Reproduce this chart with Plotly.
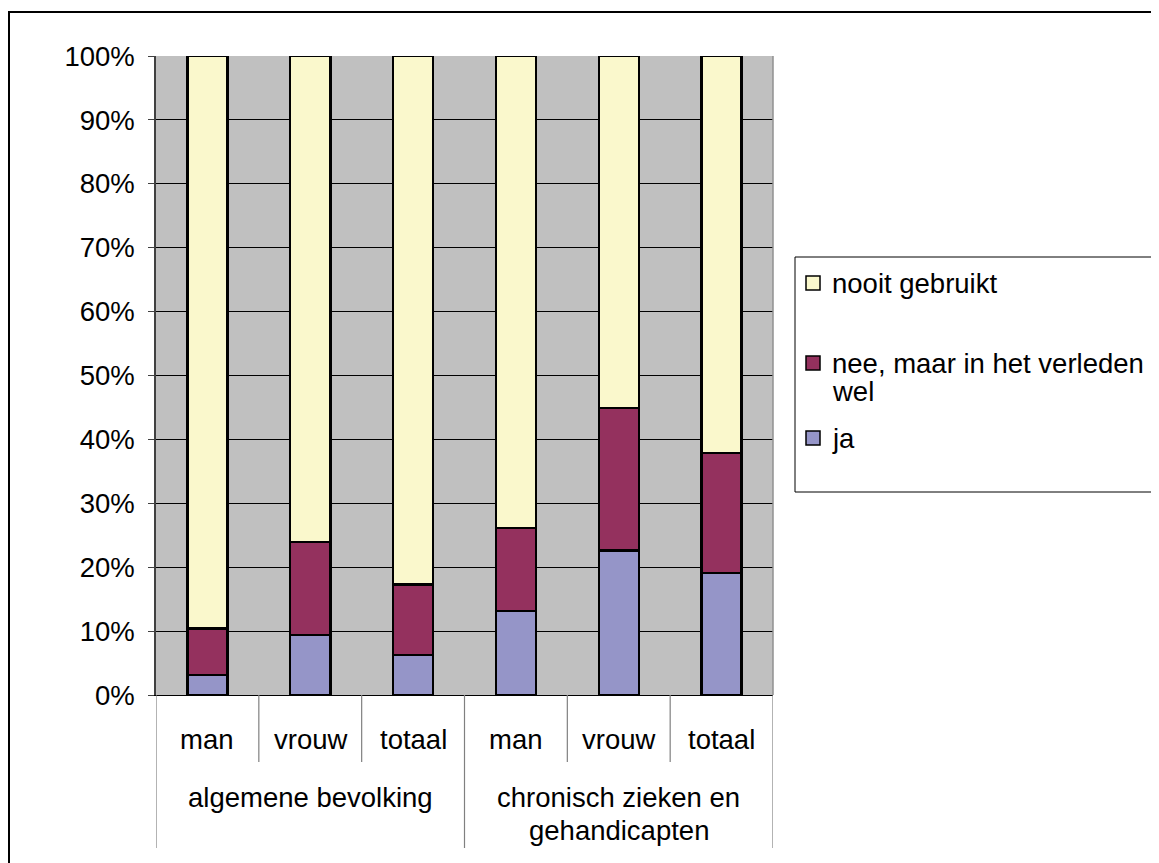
import plotly.graph_objects as go

categories = ["man", "vrouw", "totaal", "man", "vrouw", "totaal"]
groups = [["algemene bevolking"], ["chronisch zieken en", "gehandicapten"]]
group_size = 3
ja = [3.1, 9.4, 6.3, 13.1, 22.6, 19.1]
nee = [7.3, 14.5, 11.0, 13.0, 22.3, 18.8]
nooit = [89.6, 76.1, 82.7, 73.9, 55.1, 62.1]
y_ticks = [0, 10, 20, 30, 40, 50, 60, 70, 80, 90, 100]
series_names = ["ja", "nee, maar in het verleden", "nooit gebruikt"]
legend_lines = [["ja"], ["nee, maar in het verleden", "wel"], ["nooit gebruikt"]]
colors = ["#9595C8", "#94315E", "#FAF8CC"]

OFF = 8  # page body margin
W, H = 1159 - OFF, 863 - OFF
L, R, T, B = 156, 773, 56, 695  # plot area in page pixels
FONT = "Liberation Sans, Arial, sans-serif"
FS = 27.5

def px(xp):
    return (xp - L) / (R - L)

def py(yp):
    return (B - yp) / (B - T)

x = list(range(len(categories)))
fig = go.Figure()
for name, vals, col in zip(series_names, [ja, nee, nooit], colors):
    fig.add_trace(go.Bar(x=x, y=vals, name=name,
                         marker=dict(color=col, line=dict(color="black", width=2.4)),
                         showlegend=False))

shapes = []
annotations = []
# outer border
shapes.append(dict(type="rect", xref="paper", yref="paper", x0=px(9), x1=px(1190), y0=py(12), y1=py(920),
                   line=dict(color="black", width=2), fillcolor="rgba(0,0,0,0)", layer="below"))
# plot-area right edge
shapes.append(dict(type="line", xref="paper", yref="paper", x0=1, x1=1, y0=0, y1=1,
                   line=dict(color="#909090", width=1.5)))
# category labels + dividers
for i, c in enumerate(categories):
    annotations.append(dict(x=i, y=py(740), xref="x", yref="paper", text=c, showarrow=False,
                            font=dict(size=FS, color="black", family=FONT), xanchor="center", yanchor="middle"))
for i in range(len(categories) + 1):
    long_line = (i % group_size == 0)
    shapes.append(dict(type="line", xref="x", yref="paper", x0=i - 0.5, x1=i - 0.5, y0=0,
                       y1=py(848) if long_line else py(762), line=dict(color="#808080", width=1.2)))
for g, lines in enumerate(groups):
    cx = g * group_size + (group_size - 1) / 2
    for k, line in enumerate(lines):
        annotations.append(dict(x=cx, y=py(797 + 33 * k), xref="x", yref="paper", text=line, showarrow=False,
                                font=dict(size=FS, color="black", family=FONT), xanchor="center",
                                yanchor="middle"))
# legend box
shapes.append(dict(type="rect", xref="paper", yref="paper", x0=px(795), x1=px(1190), y0=py(257), y1=py(492),
                   line=dict(color="black", width=1), fillcolor="white"))
leg_y = [438, 363, 283]
for lines, col, ly in zip(legend_lines, colors, leg_y):
    shapes.append(dict(type="rect", xref="paper", yref="paper", x0=px(806), x1=px(820), y0=py(ly - 7),
                       y1=py(ly + 7), line=dict(color="black", width=1.5), fillcolor=col))
    for k, line in enumerate(lines):
        annotations.append(dict(x=px(830), y=py(ly + 28 * k), xref="paper", yref="paper", text=line,
                                showarrow=False, font=dict(size=FS, color="black", family=FONT),
                                xanchor="left", yanchor="middle", align="left"))

fig.update_layout(
    width=W, height=H,
    margin=dict(l=L - OFF, r=W - (R - OFF), t=T - OFF, b=H - (B - OFF), pad=0),
    barmode="stack", bargap=0.61,
    plot_bgcolor="#C0C0C0", paper_bgcolor="white",
    font=dict(family=FONT, size=FS, color="black"),
    shapes=shapes, annotations=annotations,
    xaxis=dict(range=[-0.5, len(categories) - 0.5], showticklabels=False, showgrid=False, zeroline=False,
               showline=True, linecolor="black", linewidth=1, ticks="", fixedrange=True),
    yaxis=dict(range=[0, 100], tickvals=y_ticks, ticktext=[f"{v}%" for v in y_ticks], showgrid=True,
               gridcolor="black", gridwidth=1, zeroline=False, showline=True, linecolor="#404040", linewidth=1.5,
               ticks="outside", ticklen=6, tickcolor="#404040", ticklabelstandoff=8,
               tickfont=dict(size=FS, color="black", family=FONT), fixedrange=True),
)
fig.write_html("out.html")
